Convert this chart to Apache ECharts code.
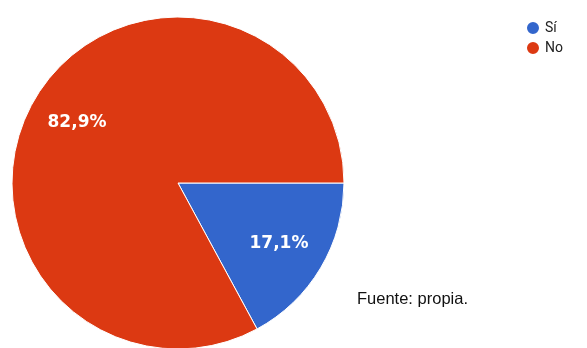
<!DOCTYPE html>
<html>
<head>
<meta charset="utf-8">
<script src="https://cdn.jsdelivr.net/npm/echarts@6/dist/echarts.min.js"></script>
<style>
  html, body { margin: 0; padding: 0; background: #ffffff; }
  #chart { width: 587px; height: 348px; }
</style>
</head>
<body>
<div id="chart"></div>
<script>
// Survey answers and their shares (%)
const categories = ['Sí', 'No'];
const shares = [17.1, 82.9];
const sliceColors = ['#3366cc', '#dc3912'];
const sourceNote = 'Fuente: propia.';

const center = [178, 183];
const radius = 166;

const pieData = categories.map((name, i) => ({
  name: name,
  value: shares[i],
  itemStyle: { color: sliceColors[i] }
}));

const chart = echarts.init(document.getElementById('chart'), null, { renderer: 'canvas' });

chart.setOption({
  animation: false,
  backgroundColor: '#ffffff',
  title: {
    text: sourceNote,
    left: 357,
    top: 291,
    padding: 0,
    textStyle: {
      fontFamily: 'Liberation Sans, Arial, sans-serif',
      fontSize: 16.5,
      fontWeight: 'normal',
      color: '#111111'
    }
  },
  legend: {
    orient: 'vertical',
    left: 520,
    top: 15,
    icon: 'circle',
    itemWidth: 14,
    itemHeight: 14,
    itemGap: 4,
    data: categories,
    textStyle: {
      fontFamily: 'Roboto, Arial, sans-serif',
      fontSize: 14,
      color: '#222222'
    }
  },
  series: [
    {
      // the slices
      type: 'pie',
      center: center,
      radius: radius,
      startAngle: 0,
      clockwise: true,
      data: pieData,
      label: { show: false },
      labelLine: { show: false },
      itemStyle: { borderColor: '#ffffff', borderWidth: 1 },
      emphasis: { disabled: true },
      silent: true
    },
    {
      // transparent ring that places the percentage labels at ~0.69 of the radius
      type: 'pie',
      center: center,
      radius: [radius * 0.38, radius],
      startAngle: 0,
      clockwise: true,
      data: categories.map((name, i) => ({ name: name, value: shares[i] })),
      itemStyle: { color: 'rgba(0,0,0,0)' },
      label: {
        show: true,
        position: 'inside',
        formatter: p => p.value.toFixed(1).replace('.', ',') + '%',
        fontFamily: 'DejaVu Sans, sans-serif',
        fontWeight: 'bold',
        fontSize: 17,
        color: '#ffffff'
      },
      labelLine: { show: false },
      emphasis: { disabled: true },
      silent: true,
      legendHoverLink: false
    }
  ]
});
</script>
</body>
</html>
